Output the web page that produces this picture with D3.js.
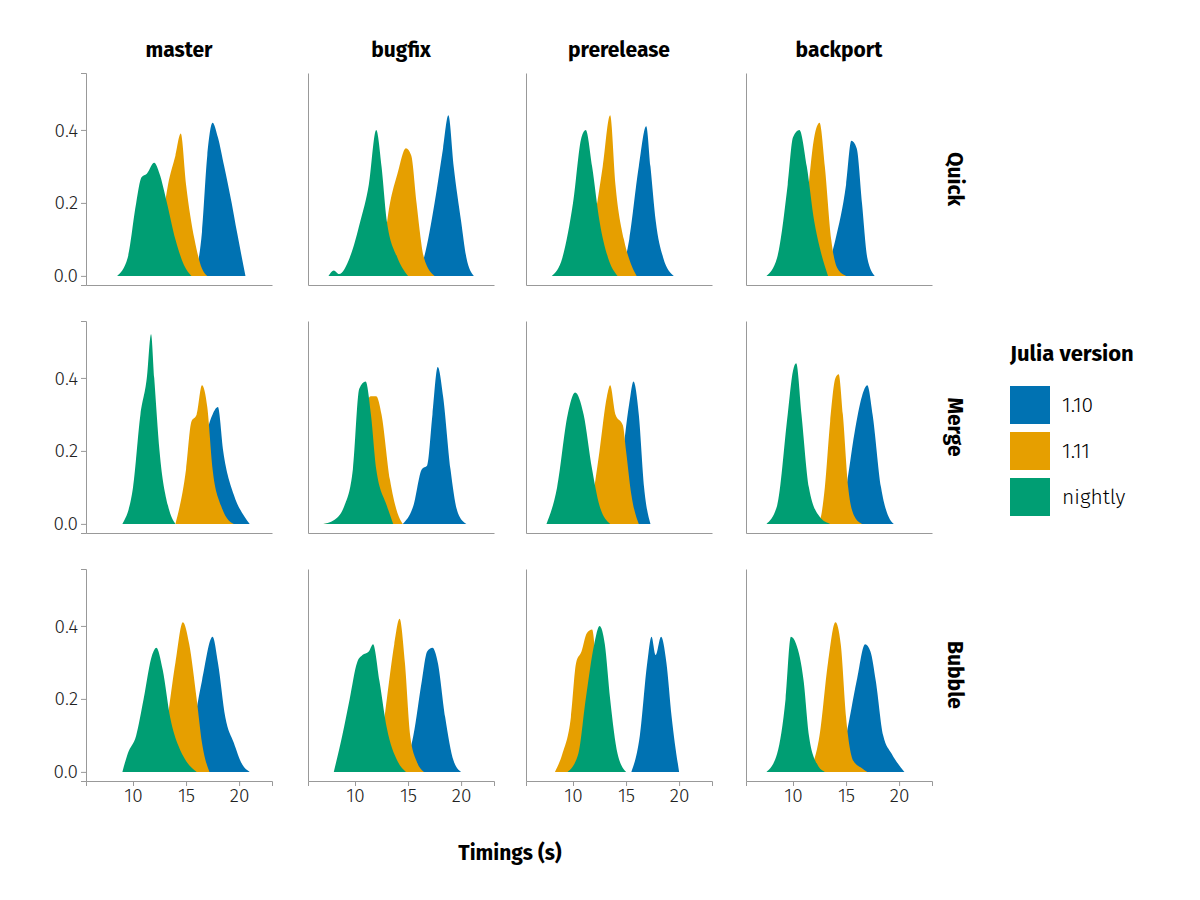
<!DOCTYPE html>
<html><head><meta charset="utf-8">
<script src="https://cdn.jsdelivr.net/npm/d3@7"></script>
<style>body{margin:0;background:#fff}text{font-family:"Fira Sans","Open Sans","Noto Sans",sans-serif}</style>
</head><body>
<svg id="c" width="1200" height="900"></svg>
<script>
var columns = ["master", "bugfix", "prerelease", "backport"]
var rows = ["Quick", "Merge", "Bubble"]
var versions = ["1.10", "1.11", "nightly"]
var colors = ["#0072b2", "#e69f00", "#009e73"]
var xTicks = [10, 15, 20]
var yTicks = [0, 0.2, 0.4]

// density curves [x, y] per row, column, version (1.10, 1.11, nightly)
var quick = [
  [[[15.8,0],[16.5,0.12],[17,0.33],[17.5,0.42],[18,0.38],[18.6,0.3],[19.3,0.2],[19.8,0.12],[20.6,0]],
   [[11.5,0],[12.5,0.1],[13.3,0.25],[14,0.33],[14.5,0.39],[15,0.25],[15.8,0.1],[16.5,0.02],[17,0]],
   [[8.5,0],[9.5,0.05],[10.3,0.2],[10.8,0.27],[11.3,0.28],[12,0.31],[12.5,0.28],[13.2,0.2],[14,0.1],[14.8,0.03],[15.5,0]]],
  [[[15.5,0],[16.5,0.05],[17.5,0.2],[18.3,0.35],[18.8,0.44],[19.3,0.3],[20,0.15],[20.5,0.05],[21.2,0]],
   [[11.5,0],[12.5,0.05],[13.3,0.2],[14,0.28],[14.8,0.35],[15.3,0.33],[15.8,0.2],[16.5,0.05],[17.5,0]],
   [[7.5,0],[8,0.015],[8.5,0.005],[9.5,0.05],[10.5,0.15],[11.3,0.25],[12,0.4],[12.5,0.3],[13,0.15],[14,0.05],[15,0]]],
  [[[14.5,0],[15.3,0.1],[16.2,0.3],[16.9,0.41],[17.3,0.3],[17.8,0.15],[18.5,0.05],[19.5,0]],
   [[11,0],[12,0.15],[12.8,0.3],[13.5,0.44],[14,0.25],[14.8,0.1],[15.5,0.03],[16,0]],
   [[8,0],[9,0.05],[10,0.2],[10.8,0.38],[11.2,0.4],[11.8,0.3],[12.5,0.15],[13.3,0.05],[14.2,0]]],
  [[[13,0],[14,0.1],[15,0.25],[15.5,0.37],[16,0.35],[16.5,0.2],[17,0.05],[17.7,0]],
   [[10.5,0],[11.3,0.2],[12,0.38],[12.5,0.42],[13,0.3],[13.6,0.1],[14.2,0.02],[15,0]],
   [[7.5,0],[8.5,0.05],[9.5,0.25],[10,0.38],[10.6,0.4],[11.3,0.3],[12,0.15],[12.5,0.08],[13.3,0]]]
]
var merge = [
  [[[15,0],[16.5,0.2],[17.5,0.3],[18,0.32],[18.5,0.2],[19.5,0.08],[20.5,0.02],[21,0]],
   [[14,0],[15,0.15],[15.5,0.28],[16,0.3],[16.5,0.38],[17,0.32],[17.5,0.15],[18.3,0.05],[19,0.01],[19.5,0]],
   [[9,0],[10,0.1],[10.7,0.3],[11.3,0.4],[11.7,0.52],[12,0.4],[12.5,0.2],[13.3,0.05],[14,0]]],
  [[[14.5,0],[15.5,0.05],[16.3,0.15],[16.8,0.16],[17.3,0.3],[17.8,0.43],[18.3,0.35],[19,0.15],[19.7,0.03],[20.5,0]],
   [[7,0],[9,0.01],[10,0.1],[10.8,0.3],[11.5,0.35],[12,0.35],[12.5,0.3],[13.3,0.12],[14,0.03],[14.5,0]],
   [[7,0],[8,0.01],[9,0.05],[9.8,0.15],[10.4,0.37],[11,0.39],[11.5,0.3],[12,0.15],[13,0.05],[13.6,0]]],
  [[[13.5,0],[14.5,0.15],[15.3,0.33],[15.7,0.39],[16.2,0.3],[16.7,0.1],[17.3,0]],
   [[11.5,0],[12.5,0.2],[13.2,0.35],[13.5,0.38],[14,0.3],[14.7,0.27],[15,0.2],[15.5,0.08],[16.2,0]],
   [[7.5,0],[8.5,0.1],[9.5,0.3],[10.2,0.36],[11,0.3],[11.8,0.15],[12.5,0.05],[13.5,0]]],
  [[[14,0],[15,0.1],[15.8,0.25],[16.5,0.35],[17,0.38],[17.5,0.3],[18.3,0.1],[19,0.02],[19.5,0]],
   [[11.5,0],[12.5,0.01],[13,0.1],[13.5,0.28],[14,0.4],[14.3,0.41],[14.7,0.3],[15.2,0.1],[15.8,0.02],[16.5,0]],
   [[7.5,0],[8.5,0.05],[9.5,0.3],[10,0.42],[10.3,0.44],[10.8,0.3],[11.5,0.1],[12.5,0.02],[13.5,0]]]
]
var bubble = [
  [[[14.5,0],[15.5,0.1],[16.5,0.25],[17.5,0.37],[18,0.3],[18.7,0.15],[19.5,0.08],[20.3,0.02],[21,0]],
   [[12,0],[13,0.1],[14,0.3],[14.7,0.41],[15.3,0.35],[16,0.2],[16.5,0.08],[17.2,0]],
   [[9,0],[9.5,0.05],[10.3,0.1],[11,0.2],[11.8,0.32],[12.2,0.34],[12.8,0.28],[13.5,0.15],[14.3,0.07],[15,0.03],[16,0]]],
  [[[14.5,0],[15.5,0.1],[16.3,0.25],[16.8,0.33],[17.3,0.34],[17.8,0.3],[18.5,0.15],[19.3,0.03],[20,0]],
   [[11.5,0],[12.3,0.05],[13,0.2],[13.7,0.35],[14.2,0.42],[14.7,0.3],[15.2,0.1],[15.8,0.03],[16.5,0]],
   [[8,0],[8.8,0.1],[9.5,0.2],[10.2,0.3],[10.7,0.32],[11.3,0.33],[11.7,0.35],[12.3,0.25],[13,0.12],[14,0.03],[14.8,0]]],
  [[[15.5,0],[16.3,0.1],[17,0.3],[17.4,0.37],[17.8,0.32],[18.3,0.37],[18.8,0.3],[19.3,0.15],[20,0]],
   [[8.3,0],[9,0.05],[9.8,0.15],[10.3,0.3],[10.8,0.33],[11.3,0.38],[11.8,0.39],[12.3,0.25],[13,0.1],[14,0.02],[14.5,0]],
   [[9.5,0],[10.5,0.05],[11.2,0.2],[12,0.35],[12.5,0.4],[13,0.35],[13.5,0.2],[14.2,0.05],[15,0]]],
  [[[14,0],[15,0.1],[16,0.25],[16.8,0.35],[17.3,0.33],[17.8,0.25],[18.5,0.1],[19.3,0.05],[20.5,0]],
   [[11.5,0],[12.5,0.1],[13.3,0.3],[14,0.41],[14.5,0.35],[15,0.15],[15.7,0.03],[16.5,0.01],[17,0]],
   [[7.5,0],[8.5,0.05],[9.3,0.2],[9.8,0.37],[10.3,0.35],[11,0.25],[11.5,0.1],[12.3,0.02],[13,0]]]
]
var allRows = [quick, merge, bubble]

var svg = d3.select("#c")
var colX = [86, 308, 526, 746], pw = 186
var rowY = [73, 321, 569], ph = 212

var x = d3.scaleLinear().domain([5.57, 23.1]).range([0, pw])
var y = d3.scaleLinear().domain([-0.025, 0.556]).range([ph, 0])
var area = d3.area().x(function(d){return x(d[0])}).y0(y(0)).y1(function(d){return y(d[1])}).curve(d3.curveMonotoneX)

rows.forEach(function(r, ri){
  columns.forEach(function(c, ci){
    var g = svg.append("g").attr("transform", "translate(" + colX[ci] + "," + rowY[ri] + ")")
    allRows[ri][ci].forEach(function(pts, vi){
      g.append("path").attr("d", area(pts)).attr("fill", colors[vi])
    })
    var ya = g.append("g").call(d3.axisLeft(y).tickValues(yTicks).tickSize(ci == 0 ? 5 : 0).tickFormat(ci == 0 ? d3.format(".1f") : ""))
    var xa = g.append("g").attr("transform", "translate(0," + ph + ")")
      .call(d3.axisBottom(x).tickValues(xTicks).tickSize(ri == 2 ? 5 : 0).tickFormat(ri == 2 ? d3.format("d") : ""))
    ;[ya, xa].forEach(function(a){
      a.select(".domain").attr("stroke", "#999")
      a.selectAll(".tick line").attr("stroke", "#999")
      a.selectAll("text").attr("font-size", 19).attr("fill", "#222").attr("font-weight", 300)
    })
    ya.selectAll(".tick line").attr("stroke", "#999")
    if (ri == 0) svg.append("text").attr("x", colX[ci] + pw / 2).attr("y", 57).attr("text-anchor", "middle")
      .attr("font-size", 21).attr("font-weight", "bold").text(c)
  })
  svg.append("text").attr("transform", "translate(948," + (rowY[ri] + ph / 2) + ") rotate(90)")
    .attr("text-anchor", "middle").attr("font-size", 21).attr("font-weight", "bold").text(r)
})

svg.append("text").attr("x", 510).attr("y", 860).attr("text-anchor", "middle")
  .attr("font-size", 21).attr("font-weight", "bold").text("Timings (s)")

var leg = svg.append("g").attr("transform", "translate(1010,340)")
leg.append("text").attr("x", 0).attr("y", 21).attr("font-size", 22).attr("font-weight", "bold").text("Julia version")
versions.forEach(function(v, i){
  leg.append("rect").attr("x", 0).attr("y", 46 + i * 46).attr("width", 40).attr("height", 38).attr("fill", colors[i])
  leg.append("text").attr("x", 52).attr("y", 72 + i * 46).attr("font-size", 21).attr("font-weight", 300).text(v)
})
</script>
</body></html>
